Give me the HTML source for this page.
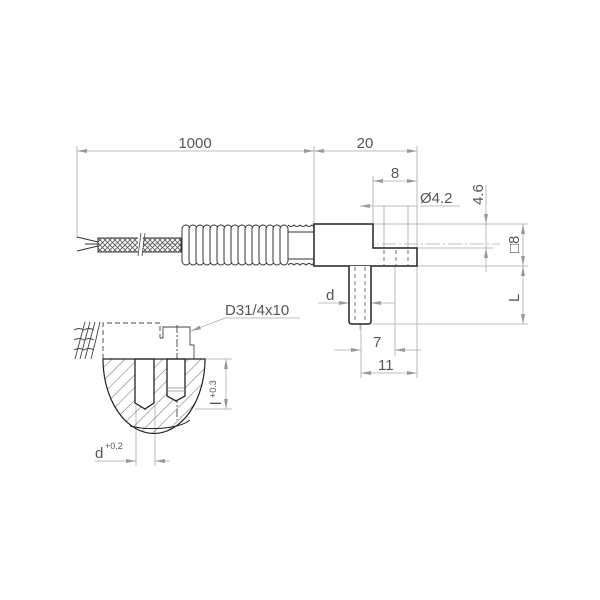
<!DOCTYPE html>
<html><head><meta charset="utf-8"><style>
html,body{margin:0;padding:0;background:#fff;width:600px;height:600px;overflow:hidden}
text{font-family:"Liberation Sans",sans-serif;fill:#555}
</style></head><body>
<svg width="600" height="600" viewBox="0 0 600 600" xmlns="http://www.w3.org/2000/svg">
<defs>
<marker id="a" viewBox="0 0 10 4" refX="10" refY="2" markerWidth="10" markerHeight="4" orient="auto-start-reverse" markerUnits="userSpaceOnUse"><path d="M0,0L10,2L0,4z" fill="#999"/></marker>
<pattern id="x" width="5" height="5" patternUnits="userSpaceOnUse"><path d="M0,0L5,5M5,0L0,5" stroke="#555" stroke-width="0.8"/></pattern>
<pattern id="h" width="9" height="9" patternUnits="userSpaceOnUse" patternTransform="rotate(45)"><line x1="0" y1="0" x2="0" y2="9" stroke="#444" stroke-width="0.8"/></pattern>
<clipPath id="sec"><path d="M103,359 L205,359 A50,73 0 0 1 103,359 Z"/></clipPath>
</defs>
<g stroke="#aaa" stroke-width="0.8" fill="none">
<line x1="77" y1="146" x2="77" y2="238"/>
<line x1="314" y1="146" x2="314" y2="224"/>
<line x1="417" y1="146" x2="417" y2="378"/>
<line x1="373" y1="176" x2="373" y2="224"/>
<line x1="384" y1="206" x2="384" y2="248"/>
<line x1="408" y1="206" x2="408" y2="248"/>
<line x1="361" y1="266" x2="361" y2="378"/>
<line x1="395" y1="250" x2="395" y2="356"/>
<line x1="360" y1="206" x2="417" y2="206" marker-start="url(#a)"/>
<line x1="420" y1="206" x2="460" y2="206"/>
<line x1="373" y1="224" x2="528" y2="224"/>
<line x1="417" y1="248" x2="493" y2="248"/>
<line x1="417" y1="266" x2="528" y2="266"/>
<line x1="371" y1="324" x2="528" y2="324"/>
<line x1="77" y1="151" x2="314" y2="151" marker-start="url(#a)" marker-end="url(#a)"/>
<line x1="314" y1="151" x2="417" y2="151" marker-start="url(#a)" marker-end="url(#a)"/>
<line x1="373" y1="181" x2="417" y2="181" marker-start="url(#a)" marker-end="url(#a)"/>
<line x1="486" y1="185" x2="486" y2="224" marker-end="url(#a)"/>
<line x1="486" y1="248" x2="486" y2="272" marker-start="url(#a)"/>
<line x1="486" y1="224" x2="486" y2="248"/>
<line x1="523" y1="224" x2="523" y2="266" marker-start="url(#a)" marker-end="url(#a)"/>
<line x1="523" y1="266" x2="523" y2="324" marker-start="url(#a)" marker-end="url(#a)"/>
<line x1="318" y1="303" x2="349" y2="303" marker-end="url(#a)"/>
<line x1="371" y1="303" x2="395" y2="303" marker-start="url(#a)"/>
<line x1="334" y1="350" x2="361" y2="350" marker-end="url(#a)"/>
<line x1="395" y1="350" x2="421" y2="350" marker-start="url(#a)"/>
<line x1="361" y1="373" x2="417" y2="373" marker-start="url(#a)" marker-end="url(#a)"/>
<line x1="140" y1="244" x2="500" y2="244" stroke-dasharray="14,3,2,3"/>
<line x1="360" y1="256" x2="360" y2="330" stroke-dasharray="14,3,2,3"/>
<line x1="200" y1="359" x2="232" y2="359"/>
<line x1="195" y1="409" x2="232" y2="409"/>
<line x1="226" y1="359" x2="226" y2="409" marker-start="url(#a)" marker-end="url(#a)"/>
<line x1="136" y1="405" x2="136" y2="466"/>
<line x1="155" y1="405" x2="155" y2="466"/>
<line x1="95" y1="461" x2="136" y2="461" marker-end="url(#a)"/>
<line x1="155" y1="461" x2="170" y2="461" marker-start="url(#a)"/>
<polyline points="300,318 225,318 191,331" marker-end="url(#a)"/>
</g>
<g stroke="#333" stroke-width="1" fill="none">
<path d="M98,242 L77,237 M98,246 L77,251 M98,244 L85,244"/>
</g>
<rect x="98" y="238" width="83" height="14" fill="url(#x)" stroke="#333" stroke-width="1"/>
<rect x="138" y="236" width="5" height="18" fill="#fff"/>
<path d="M138,256 L141,233 M142,256 L145,233" stroke="#444" stroke-width="0.8"/>
<rect x="287" y="230" width="28" height="30" fill="#fff"/>
<g stroke="#333" stroke-width="1" fill="#fff">
<rect x="182" y="225" width="8" height="40" rx="4"/><rect x="189" y="225" width="8" height="40" rx="4"/>
<rect x="196" y="225" width="8" height="40" rx="4"/><rect x="203" y="225" width="8" height="40" rx="4"/>
<rect x="210" y="225" width="8" height="40" rx="4"/><rect x="217" y="225" width="8" height="40" rx="4"/>
<rect x="224" y="225" width="8" height="40" rx="4"/><rect x="231" y="225" width="8" height="40" rx="4"/>
<rect x="238" y="225" width="8" height="40" rx="4"/><rect x="245" y="225" width="8" height="40" rx="4"/>
<rect x="252" y="225" width="8" height="40" rx="4"/><rect x="259" y="225" width="8" height="40" rx="4"/>
<rect x="266" y="225" width="8" height="40" rx="4"/><rect x="273" y="225" width="8" height="40" rx="4"/>
<rect x="280" y="225" width="8" height="40" rx="4"/>
</g>
<g stroke="#333" stroke-width="1" fill="none">
<path d="M288,232 h26 M288,259 h26"/>
<path d="M288,225 q3,3 6,0 q3,3 6,0 q3,3 6,0 q3,3 6,0 q2,3 4,0"/>
<path d="M288,265 q3,-3 6,0 q3,-3 6,0 q3,-3 6,0 q3,-3 6,0 q2,-3 4,0"/>
</g>
<path d="M314,224 H373 V248 H417 V266 H314 Z" fill="#fff" stroke="#222" stroke-width="1.5"/>
<path d="M349,266 V321 Q349,324 352,324 H368 Q371,324 371,321 V266" fill="#fff" stroke="#222" stroke-width="1.5"/>
<g stroke="#555" stroke-width="0.8" stroke-dasharray="4,3">
<line x1="384" y1="250" x2="384" y2="266"/><line x1="396" y1="250" x2="396" y2="266"/><line x1="408" y1="250" x2="408" y2="266"/>
<line x1="355" y1="267" x2="355" y2="324"/><line x1="365" y1="267" x2="365" y2="324"/>
</g>
<g stroke="#444" stroke-width="0.9" fill="none">
<path d="M103,359 V323 H160 V338" stroke-dasharray="5,3"/>
<path d="M160,338 H163 V327 H190 V345 H194 V359"/>
<path d="M90,322 q-5,18 -10,37 M95,322 q-5,18 -10,37 M100,322 q-4,18 -9,37 M85,322 q-5,18 -10,37"/>
<path d="M74,330 q5,-3 10,0 q5,-3 10,0 M74,340 q5,-3 10,0 q5,-3 10,0 M74,350 q5,-3 10,0 q5,-3 10,0"/>
<line x1="177" y1="325" x2="177" y2="420" stroke-dasharray="8,2,2,2"/>
<line x1="145" y1="362" x2="145" y2="410" stroke-dasharray="8,2,2,2"/>
</g>
<g clip-path="url(#sec)">
<rect x="100" y="355" width="110" height="90" fill="url(#h)"/>
</g>
<path d="M135,359 V403 L145,409 L154,403 V359 Z M167,359 V396 L176,401 L185,396 V359 Z" fill="#fff" stroke="#222" stroke-width="1.3"/>
<path d="M168,388 h16 M168,391 h16" stroke="#888" stroke-width="0.7"/>
<path d="M103,359 L205,359 A50,73 0 0 1 103,359" fill="none" stroke="#222" stroke-width="1.2"/>
<path d="M130,426 A40,14 0 0 0 190,420" fill="none" stroke="#222" stroke-width="1"/>
<text x="195" y="148" font-size="15" text-anchor="middle">1000</text>
<text x="365" y="148" font-size="15" text-anchor="middle">20</text>
<text x="395" y="178" font-size="15" text-anchor="middle">8</text>
<text x="420" y="203" font-size="15">Ø4.2</text>
<text font-size="15" transform="translate(483,205) rotate(-90)">4.6</text>
<text font-size="15" transform="translate(519,253) rotate(-90)">□8</text>
<text font-size="15" transform="translate(519,302) rotate(-90)">L</text>
<text x="326" y="300" font-size="15">d</text>
<text x="373" y="347" font-size="15">7</text>
<text x="378" y="370" font-size="15">11</text>
<text x="225" y="315" font-size="15">D31/4x10</text>
<text font-size="15" transform="translate(221,405) rotate(-90)">l</text>
<text font-size="9" transform="translate(216,398) rotate(-90)">+0.3</text>
<text x="95" y="458" font-size="15">d</text>
<text x="105" y="449" font-size="9">+0.2</text>
</svg>
</body></html>
